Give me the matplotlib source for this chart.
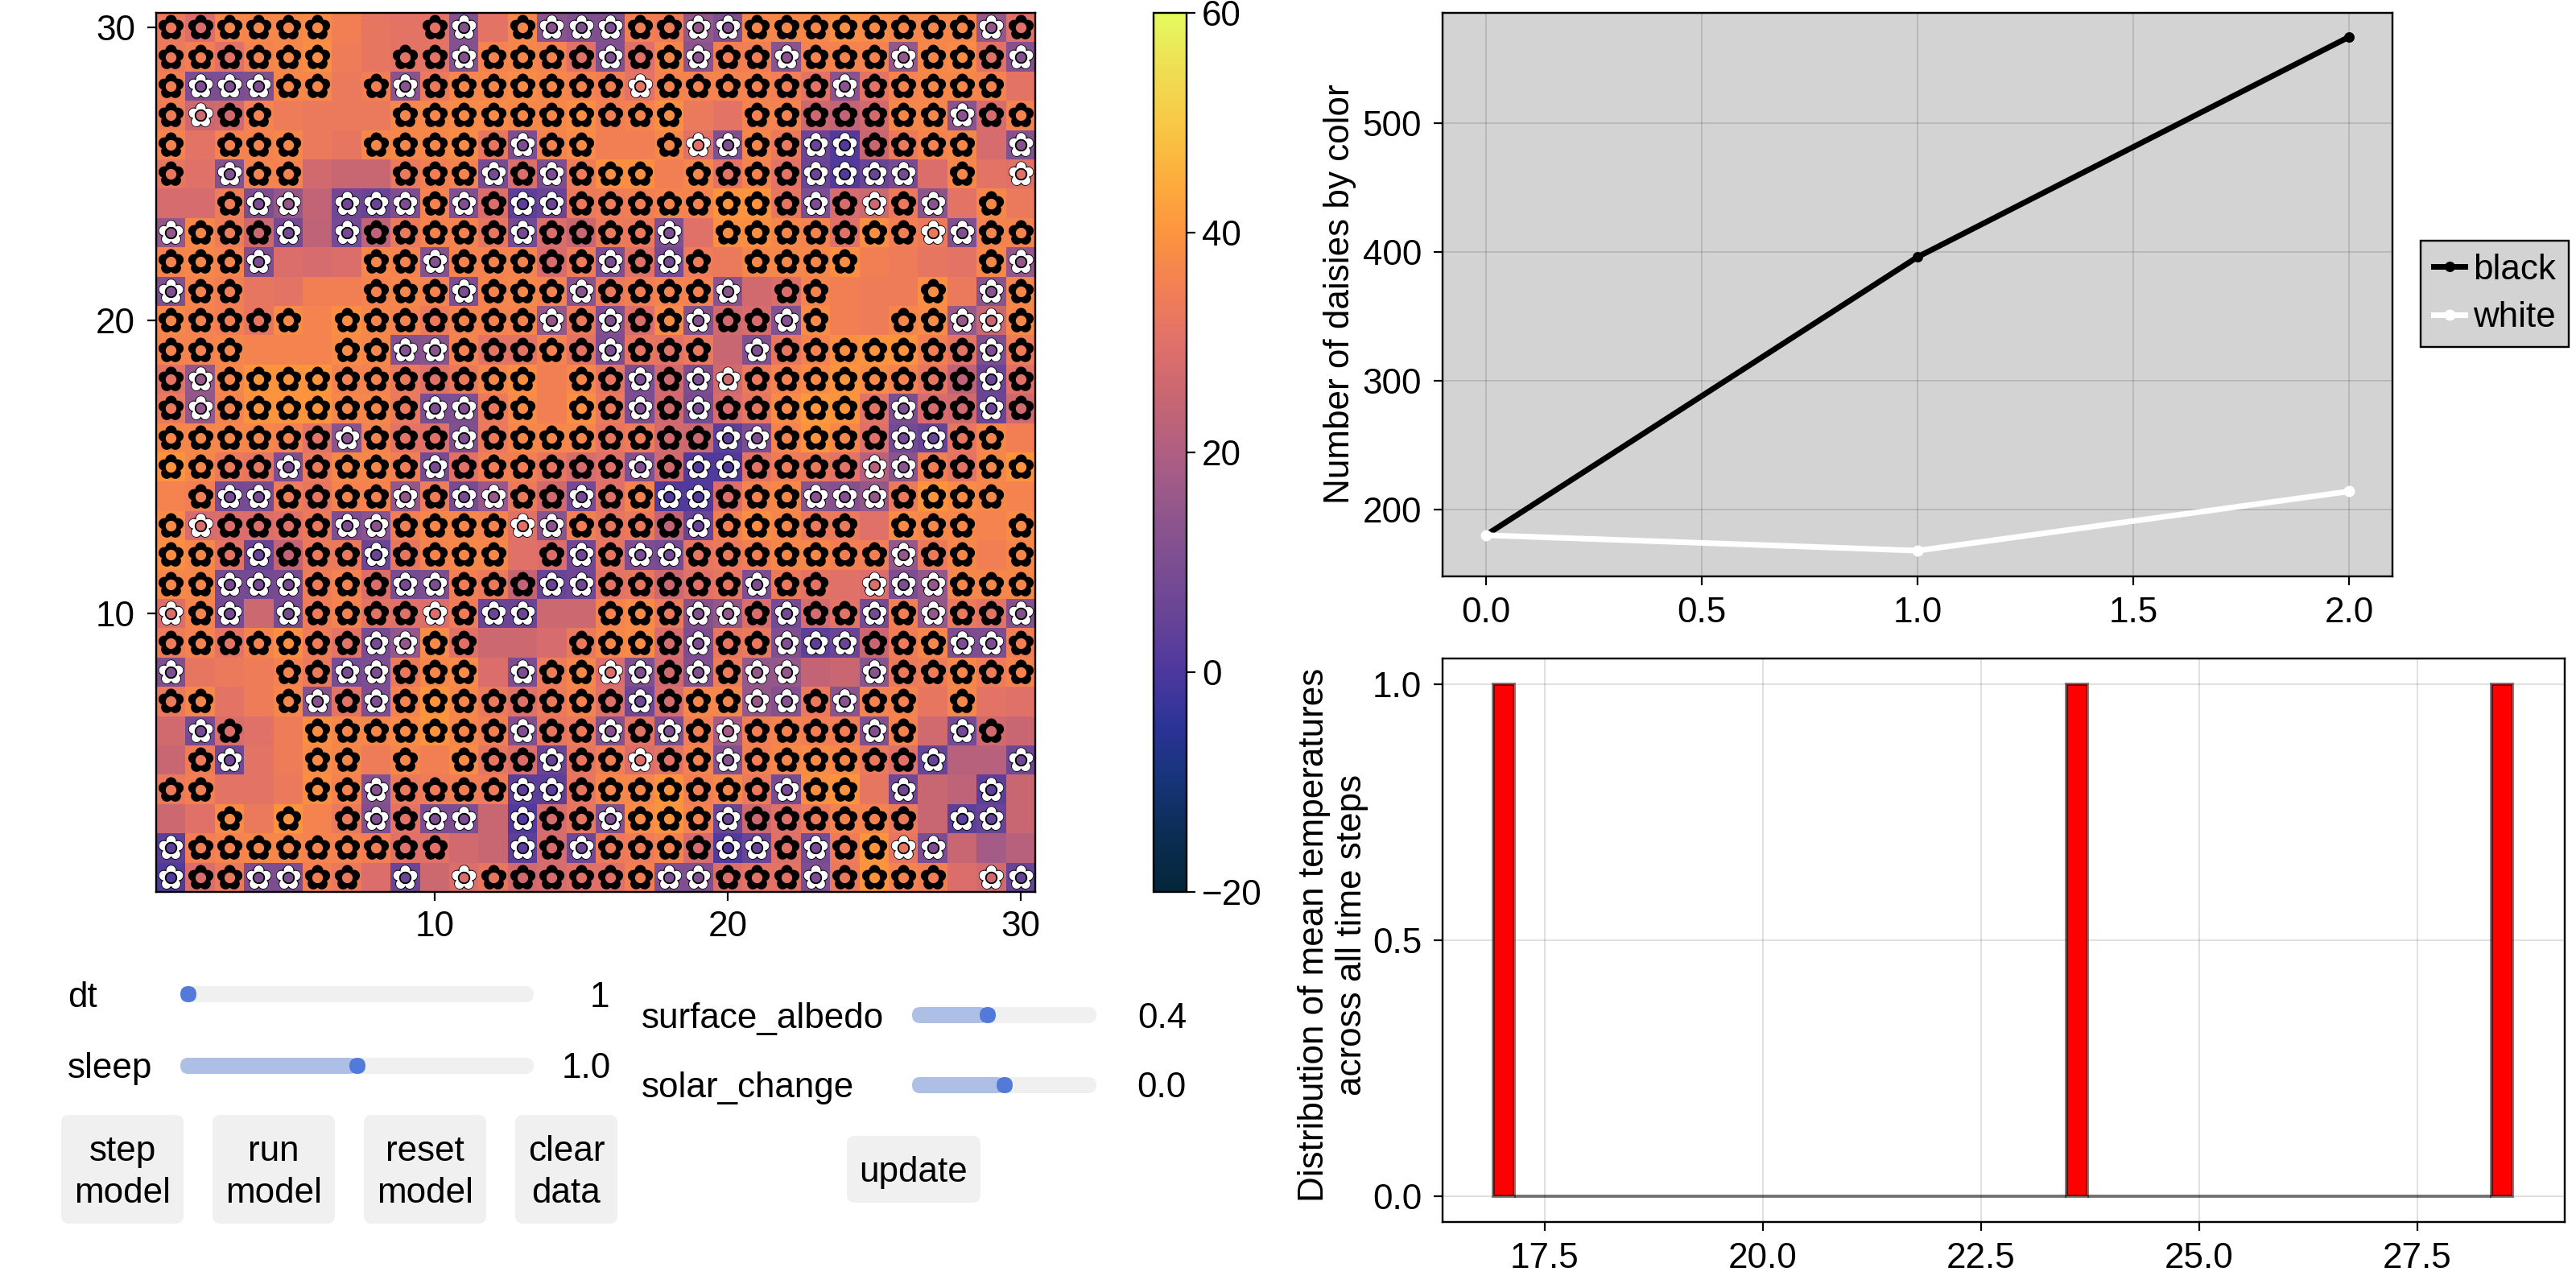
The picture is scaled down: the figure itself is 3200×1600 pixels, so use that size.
import numpy as np
import matplotlib
matplotlib.use("Agg")
import matplotlib.pyplot as plt
from matplotlib.colors import LinearSegmentedColormap
from matplotlib.patches import FancyBboxPatch
from matplotlib.path import Path

plt.rcParams['font.family'] = ['Liberation Sans', 'DejaVu Sans']
W, H, DPI = 3200, 1600, 200
px = 72 / DPI
FS = 44 * px

# agents, top row = y 30, bottom row = y 1 (B black daisy, W white daisy, . empty)
agents = [
 "BBBBBB...BW.BWWWBBWWBBBBBBBBWB",
 "BBBBBB..BBWBBBBWBBWBBWBBBWBBBW",
 "BWWWBB.BWBBBBBBBWBBBBBBWBBBBB.",
 "BWBB....BBBBBBBBBB..BBBBBBBWBB",
 "B.BBB..BBBBBWBB..BWWBBWWBBBB.W",
 "B.WBB...BBBWBWBBB.BBBBWWWW.B.W",
 "..BWW.WWWBWBWWBBBBBBBBWBWBW.B.",
 "WBBBW.WBBBBBWBBBBW.BBBBBBBWWBB",
 "BBBW...BBWBBBBBWBWB.BBBB....BW",
 "WBB....BBBWBBBWBBBBW.BB...B.WB",
 "BBBBB.BBBBBBBWBWBBWBBWB..BBWWB",
 "BBB...BBWWBBBBBWBBB.WBBBBBBBWB",
 "BWBBBBBBBBBBB.BBWBWWBBBBBBBBWB",
 "BWBBBBBBBWWBB.BBWBWBBBBBBWBBWB",
 "BBBBBBWBBBWBBBBBBBBWWBBBBWWBB.",
 "BBBBWBBBBWBBBBBBWBWWBBBBWWBBBB",
 ".BWWBBBBWBWWBBWBBWWBBBWWWBBBB.",
 "BWBBBBWWBBBBWWBBBBWBBBBB.BBB.B",
 "BBBWBBBWBBBB.BWBWWBBBBBBBWBB.B",
 "BBWWWBBBWWBBBWWBBBBBWBB.WWWBBB",
 "WBW.WBBBBWBWW..BBBWWBWBBWBWBBW",
 "BBBBBBBWWBB...BBBBWBBWWWBBBWWB",
 "W...BBWWBBB.WBBWWBWBWW..WBBBBB",
 "BB..BWBWBBBBBBBBWBBBWWBWBB.B..",
 ".WB..BBBBBBBWBBWBWBWBBBBWB.WB.",
 ".BW..BB.B.BBBWBBWBBWBBBBBBW..W",
 "BB...BBWBBBBWWBBBBBBBWBB.W..W.",
 "..B.B.BWBWW.WBBWBBBWBBBBBB.WW.",
 "WBBBBBBBBB..WBWBBBBWWBWBBWW...",
 "WBBWWBB.W.WBBBBBBWWBBBWBBBB.WW",
]

# temperature of each patch, same row order
temperature = [
 [33,29,37,37,37,38,35,32,31,31,12,31,37,13,11,11,35,34,15,11,37,37,37,39,38,37,37,37,15,30],
 [33,35,30,36,37,39,34,32,31,31,12,36,37,36,30,11,30,37,13,35,35,13,36,36,36,15,37,38,30,12],
 [35,10,10,11,37,37,33,35,13,33,37,37,38,37,36,35,31,36,36,36,36,35,31,13,31,36,37,37,36,31],
 [34,26,27,36,34,33,33,33,37,37,38,38,37,37,39,35,36,39,33,31,36,36,26,24,27,37,37,13,28,36],
 [36,31,36,36,37,33,32,37,37,37,38,32,10,36,38,35,35,37,30,11,37,33, 6, 1,25,33,36,37,28,12],
 [32,30,12,36,36,27,25,25,33,35,36, 9,29,10,34,39,39,35,37,31,36,31, 6, 1, 5, 9,29,37,31,30],
 [28,28,34,10,15,24, 7, 5,10,36,11,29, 3, 6,33,34,35,36,36,40,40,32,10,28,26,33,13,31,37,33],
 [15,37,34,26, 8,23, 8,23,33,36,36,32, 8,29,25,33,33,11,30,39,39,37,36,30,39,35,33,11,36,36],
 [36,37,36,10,29,28,29,37,36,12,36,36,36,28,34,10,30, 9,34,33,37,37,37,39,35,34,32,31,37,15],
 [11,36,35,32,31,35,35,36,37,36,10,36,37,36,13,33,35,36,36,13,27,29,36,35,34,34,39,33,13,37],
 [37,36,35,32,38,36,39,37,36,33,36,36,36,15,33,11,29,38,12,27,28,12,38,35,34,37,38,16,25,37],
 [36,36,37,36,36,36,38,37,12,13,36,31,31,36,31,10,32,31,33,25,11,32,36,39,40,40,35,31,10,34],
 [31,15,37,40,40,40,36,36,33,30,33,37,39,35,37,32,10,27,10,27,33,36,38,40,38,36,32,23, 6,30],
 [33,15,36,40,40,40,37,37,33,10,11,33,38,35,39,33,10,27, 9,28,32,38,41,40,31,10,28,27, 6,27],
 [37,37,37,37,36,31,13,36,31,30,11,33,37,37,37,32,34,27,26, 3,10,36,40,37,30, 8, 5,32,37,35],
 [40,37,33,32,10,33,37,37,35, 9,30,35,35,32,28,30,11,27, 1, 1,31,34,33,31,22,13,35,31,37,40],
 [36,35, 9, 9,34,32,36,36,15,34, 9,16,33,27, 8,30,36, 1, 1,29,36,37,13,12,15,33,40,38,37,36],
 [38,28,29,29,30,33,10,13,35,37,37,36,30,13,35,32,33,24, 5,35,39,37,33,33,30,38,37,37,36,38],
 [39,37,31, 5,24,33,33, 6,32,36,37,37,30,29, 7,32,10, 9,32,33,35,37,37,35,35,15,33,37,35,37],
 [37,37, 9, 8, 9,34,36,29, 9,10,35,33,24, 5, 7,31,32,26,30,32,10,33,31,30,29,10,15,37,37,37],
 [29,36, 8,26, 9,34,36,31,30,29,34, 6, 6,26,26,36,38,33,12,15,29, 8,28,31, 8,35,15,33,31,12],
 [34,36,31,36,39,34,31, 9,15,38,30,26,26,28,33,37,38,28,10,32,33,11, 3, 6,25,34,37,10,10,35],
 [11,32,33,34,36,33, 9,10,33,37,38,29,10,34,37,29,11,27,11,34,15,15,24,25,13,33,34,37,34,36],
 [33,37,31,34,37,12,31,10,36,40,37,33,30,33,36,30, 7,28,37,37,15,12,33,13,36,36,32,37,31,30],
 [27, 9,29,30,34,39,37,37,38,40,37,35,11,32,33,12,31,11,35,18,35,36,35,35,11,36,27, 8,27,25],
 [25,34, 7,31,34,38,37,34,37,35,38,32,29, 5,32,35,29,31,36,12,35,37,38,37,33,30, 5,22,22, 7],
 [33,35,31,31,33,39,36,12,33,34,35,34, 3, 3,32,37,37,40,35,37,33, 9,39,40,32, 7,25,23, 3,25],
 [26,30,38,33,40,36,33,11,31,10,10,25, 1,28,32,11,38,40,36, 6,26,30,33,36,36,33,25, 3, 5,25],
 [ 3,35,36,37,37,36,36,35,30,30,27,25, 3,28, 7,33,34,36,28, 1, 5,30, 9,34,40,32,10,25,18,22],
 [ 1,29,33,10,10,35,33,29, 6,26,29,32,27,28,30,30,35,11,11,29,31,31,10,33,40,36,35,29,27, 5],
]

time_steps = [0, 1, 2]
black_daisies = [180, 396, 567]
white_daisies = [180, 168, 214]
mean_temperatures = [17.0, 23.6, 28.45]
hist_bins = 48
hist_range = (16.91, 28.59)

heat_ticks = [10, 20, 30]
cbar_ticks = [-20, 0, 20, 40, 60]
line_xticks = [0.0, 0.5, 1.0, 1.5, 2.0]
line_yticks = [200, 300, 400, 500]
hist_xticks = [17.5, 20.0, 22.5, 25.0, 27.5]
hist_yticks = [0.0, 0.5, 1.0]

cmap_positions = [-20, -15, -10, -5, 0, 5, 10, 15, 20, 25, 30, 35, 40, 45, 50, 55, 60]
cmap_colors = ["#04263a", "#0b2d52", "#163478", "#2b3396", "#4d389e", "#674496", "#7c4e92",
               "#93578b", "#af5f83", "#c86672", "#e0716a", "#f27f54", "#fd943f", "#fcae3c",
               "#f8c846", "#efde54", "#e5fb5f"]

# slider name, value text, track ends, thumb position (pixels of the canvas)
sliders = [
 ("dt", "1", 84, 224, 663, 234, 1235, 1251, 757),
 ("sleep", "1.0", 84, 224, 663, 444, 1324, 1339, 759),
 ("surface_albedo", "0.4", 797, 1133, 1362, 1227, 1261, 1277, 1474),
 ("solar_change", "0.0", 797, 1133, 1362, 1248, 1348, 1363, 1474),
]
buttons = [
 (["step", "model"], 76, 228, 1385, 1520),
 (["run", "model"], 264, 416, 1385, 1520),
 (["reset", "model"], 452, 604, 1385, 1520),
 (["clear", "data"], 640, 767, 1385, 1520),
 (["update"], 1052, 1218, 1411, 1494),
]

def add_axes(fig, x0, x1, y0, y1, **kw):
    return fig.add_axes([x0 / W, 1 - y1 / H, (x1 - x0) / W, (y1 - y0) / H], **kw)

def style(ax, size=11, pad=15):
    for s in ax.spines.values():
        s.set_linewidth(2.4 * px)
    ax.tick_params(length=size * px, width=2.2 * px, labelsize=FS, pad=pad * px)

fig = plt.figure(figsize=(W / DPI, H / DPI), dpi=DPI, facecolor="white")

# ---------- heat map ----------
cmap = LinearSegmentedColormap.from_list(
    "thermal", [((p + 20) / 80, c) for p, c in zip(cmap_positions, cmap_colors)], N=512)
ax = add_axes(fig, 194, 1286, 16, 1108)
T = np.array(temperature, dtype=float)[::-1]
im = ax.imshow(T, origin="lower", extent=(0.5, 30.5, 0.5, 30.5), cmap=cmap, vmin=-20, vmax=60,
               aspect="auto", interpolation="nearest")
ax.set_xticks(heat_ticks)
ax.set_yticks(heat_ticks)
style(ax)
ax.tick_params(axis="x", pad=12 * px)

# flower marker shapes
def outer_flower(d, r, hole, n=360):
    th = np.linspace(0, 2 * np.pi, n, endpoint=False)
    c = d * np.array([[np.cos(np.pi / 2 + 2 * np.pi * i / 5), np.sin(np.pi / 2 + 2 * np.pi * i / 5)]
                      for i in range(5)])
    u = np.c_[np.cos(th), np.sin(th)]
    radii = np.zeros(n)
    for cc in c:
        b = u @ cc
        disc = b ** 2 - (cc @ cc - r ** 2)
        radii = np.maximum(radii, np.where(disc > 0, b + np.sqrt(np.maximum(disc, 0)), 0))
    radii = np.maximum(radii, hole + 1.5)
    out = u * radii[:, None]
    inner = (hole * u)[::-1]
    v = np.vstack([out, out[:1], inner, inner[:1]])
    codes = [Path.MOVETO] + [Path.LINETO] * (n - 1) + [Path.CLOSEPOLY] + \
            [Path.MOVETO] + [Path.LINETO] * (n - 1) + [Path.CLOSEPOLY]
    return Path(v, codes)

def white_petals(d, r, ring, n=60):
    verts, codes = [], []
    for i in range(5):
        a = np.pi / 2 + 2 * np.pi * i / 5
        c = d * np.array([np.cos(a), np.sin(a)])
        t = np.linspace(0, 2 * np.pi, n, endpoint=False)
        p = c + r * np.c_[np.cos(t), np.sin(t)]
        nn = np.linalg.norm(p, axis=1, keepdims=True)
        p = np.where(nn < ring, p / nn * ring, p)
        verts += [p, p[:1]]
        codes += [Path.MOVETO] + [Path.LINETO] * (n - 1) + [Path.CLOSEPOLY]
    return Path(np.vstack(verts), codes)

def draw_flowers(ax, xs, ys, path, color, z):
    ext = np.max(np.abs(path.vertices))
    ax.scatter(xs, ys, marker=path, s=(2 * ext * px) ** 2, c=color, linewidths=0, zorder=z)

grid = np.array([list(r) for r in agents])[::-1]
by, bx = np.where(grid == "B")
wy, wx = np.where(grid == "W")
draw_flowers(ax, bx + 1, by + 1, outer_flower(8.9, 7.1, 6.6), "black", 3)
draw_flowers(ax, wx + 1, wy + 1, outer_flower(8.9, 7.1, 5.8), "black", 3)
draw_flowers(ax, wx + 1, wy + 1, white_petals(9.4, 5.9, 7.7), "white", 4)
ax.set_xlim(0.5, 30.5)
ax.set_ylim(0.5, 30.5)

# ---------- colour bar ----------
cax = add_axes(fig, 1433, 1474, 16, 1108)
cb = fig.colorbar(im, cax=cax, ticks=cbar_ticks)
cb.outline.set_linewidth(2.4 * px)
cax.tick_params(length=11 * px, width=2.2 * px, labelsize=FS, pad=8 * px)

# ---------- daisy counts ----------
ax2 = add_axes(fig, 1792, 2972, 16, 716, facecolor="#d3d3d3")
l1, = ax2.plot(time_steps, black_daisies, color="black", lw=7 * px, marker="o", ms=13 * px,
               mew=0, label="black", zorder=3)
l2, = ax2.plot(time_steps, white_daisies, color="white", lw=7 * px, marker="o", ms=14 * px,
               mew=0, label="white", zorder=4)
ax2.set_xlim(-0.1, 2.1)
ax2.set_ylim(148, 585.6)
ax2.set_xticks(line_xticks)
ax2.set_xticklabels(["%.1f" % v for v in line_xticks])
ax2.set_yticks(line_yticks)
ax2.grid(True, color="black", alpha=0.12, lw=2 * px)
ax2.set_axisbelow(True)
style(ax2)
ax2.tick_params(axis="x", pad=14 * px)
fig.text(1665 / W, 1 - 365 / H, "Number of daisies by color", rotation=90, ha="center",
         va="center", fontsize=FS)
leg = fig.legend(handles=[l1, l2], loc="upper left",
                 bbox_to_anchor=(3007 / W, 1 - 299 / H), borderaxespad=0, fontsize=FS,
                 facecolor="#d3d3d3", edgecolor="black", fancybox=False, framealpha=1,
                 handlelength=0.9, handletextpad=0.22, borderpad=0.36, labelspacing=0.42)
leg.get_frame().set_linewidth(2.4 * px)

# ---------- histogram ----------
ax3 = add_axes(fig, 1792, 3186, 818, 1518)
ax3.hist(mean_temperatures, bins=hist_bins, range=hist_range, color="red",
         edgecolor=(0, 0, 0, 0.5), linewidth=4 * px, zorder=3)
ax3.set_xlim(16.33, 29.19)
ax3.set_ylim(-0.05, 1.05)
ax3.set_xticks(hist_xticks)
ax3.set_xticklabels(["%.1f" % v for v in hist_xticks])
ax3.set_yticks(hist_yticks)
ax3.set_yticklabels(["%.1f" % v for v in hist_yticks])
ax3.grid(True, color="black", alpha=0.12, lw=2 * px)
ax3.set_axisbelow(True)
style(ax3)
ax3.tick_params(axis="x", pad=14 * px)
fig.text(1656 / W, 1 - 1161 / H, "Distribution of mean temperatures\nacross all time steps",
         rotation=90, ha="center", va="center", fontsize=FS, linespacing=1.16, multialignment="center")

# ---------- controls ----------
ui = fig.add_axes([0, 0, 1, 1], facecolor="none", zorder=-1)
ui.set_xlim(0, W)
ui.set_ylim(H, 0)
ui.axis("off")

def rbox(x0, x1, y0, y1, r, color, z=1):
    ui.add_patch(FancyBboxPatch((x0 + r, y0 + r), x1 - x0 - 2 * r, y1 - y0 - 2 * r,
                                boxstyle=f"round,pad={r},rounding_size={r}",
                                fc=color, ec="none", zorder=z))

for name, val, tx, x0, x1, thumb, yc, base, vx in sliders:
    ui.text(tx, base, name, fontsize=FS, va="baseline", ha="left")
    ui.text(vx, base, val, fontsize=FS, va="baseline", ha="right")
    rbox(x0, x1, yc - 10, yc + 10, 10, "#f0f0f0", 1)
    if thumb - x0 > 20:
        rbox(x0, thumb, yc - 10, yc + 10, 10, "#aebfe6", 2)
    rbox(thumb - 10, thumb + 10, yc - 10, yc + 10, 10, "#527bd9", 3)

for lines, x0, x1, y0, y1 in buttons:
    rbox(x0, x1, y0, y1, 10, "#f0f0f0", 1)
    xc = (x0 + x1) / 2
    if len(lines) == 2:
        ui.text(xc, 1442, lines[0], fontsize=FS, ha="center", va="baseline")
        ui.text(xc, 1494, lines[1], fontsize=FS, ha="center", va="baseline")
    else:
        ui.text(xc, 1468, lines[0], fontsize=FS, ha="center", va="baseline")

fig.savefig("out.png", dpi=DPI)
